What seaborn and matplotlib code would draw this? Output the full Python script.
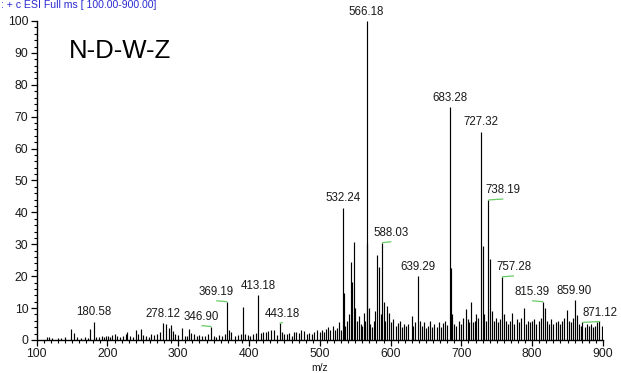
import matplotlib
matplotlib.use("Agg")
import matplotlib.pyplot as plt
from matplotlib.ticker import MultipleLocator
import seaborn as sns
import pandas as pd

# Labelled (annotated) ions: m/z and relative abundance (%)
label_mz = [180.58, 278.12, 346.90, 369.19, 413.18, 443.18, 532.24, 566.18,
            588.03, 639.29, 683.28, 727.32, 738.19, 757.28, 815.39, 859.90, 871.12]
label_int = [5.7, 5.2, 4.2, 12.0, 14.1, 5.2, 41.4, 100.0,
             30.5, 20.0, 73.0, 65.3, 43.9, 19.8, 12.0, 12.5, 5.5]
# Horizontal shift of each label from its peak (m/z units); 0 = centred
label_shift = [0, 0, -14, -15.5, 0, 4.5, 0, 0,
               13, 0, 0, 0, 21, 17, -15.5, 0, 25]

# Remaining (unlabelled) ions
other_mz = [115, 118, 122, 130, 135, 140, 148, 152, 157, 163, 168, 172, 176,
            184, 188, 192, 195, 198, 201, 204, 207, 210, 214, 218, 222, 226,
            228, 232, 236, 240, 243, 247, 250, 254, 258, 262, 266, 270, 274,
            282.6, 287, 290, 293, 296, 300, 305, 309, 312, 315, 318, 322, 326,
            330, 334, 338, 342, 350, 354, 358, 362, 366, 372, 375, 380, 384,
            388, 391, 395, 398, 402, 406, 410, 417, 420, 424, 427, 431, 435,
            439, 447, 450, 453, 456, 460, 464, 467, 471, 474, 478, 482, 485,
            489, 492, 496,
            500, 503, 506, 509, 512, 515, 518, 521, 524, 527, 530, 534, 536,
            539, 541, 544, 545.8, 548, 550, 552, 555, 558, 560, 562, 564,
            567.2, 569, 571, 574, 576, 578, 581, 584, 586, 590, 592, 595, 598,
            601, 604, 607, 610, 613, 616, 619, 622, 625, 629.6, 632, 635, 641,
            644, 647, 650, 653, 656, 659, 662, 665, 668, 671, 674, 677, 680,
            685, 687, 690, 693, 696, 699, 702, 706, 709, 711, 714, 717, 719,
            721, 724, 730, 732, 735, 741, 743, 746, 749, 752, 755, 760, 763,
            766, 769, 772, 775, 778, 781, 784, 788, 791, 794, 797, 800, 803,
            806, 809, 812, 818, 821, 824, 827, 830, 833, 836, 839, 842, 845,
            849.6, 852, 855, 858, 863, 866, 869, 874, 877, 880, 883, 886, 889,
            892, 895, 898]
other_int = [0.8, 1.0, 0.7, 0.5, 0.6, 0.8, 3.3, 2.2, 0.8, 0.6, 1.0, 0.7, 3.3,
             0.8, 1.0, 1.2, 1.0, 1.2, 1.2, 1.0, 1.5, 1.9, 1.2, 1.0, 1.4, 1.8,
             2.4, 1.2, 1.0, 3.2, 2.0, 3.5, 1.6, 1.2, 1.0, 1.8, 1.5, 2.0, 2.4,
             5.0, 3.7, 4.7, 2.8, 2.0, 1.6, 3.8, 1.4, 1.2, 3.5, 2.2, 1.8, 1.2,
             1.6, 1.2, 1.4, 1.8, 1.2, 0.8, 1.5, 1.2, 2.0, 3.0, 2.5, 1.2, 1.6,
             2.0, 10.4, 2.0, 1.6, 1.4, 2.0, 2.2, 2.3, 2.4, 2.4, 2.8, 3.0, 3.2,
             1.6, 2.4, 1.8, 2.0, 2.2, 1.4, 2.4, 2.6, 2.2, 3.0, 2.8, 1.8, 2.2,
             2.0, 2.4, 3.0,
             2.5, 3.2, 2.4, 3.6, 4.0, 3.0, 4.5, 3.2, 3.8, 5.6, 3.0, 14.7, 4.5,
             6.0, 8.0, 24.5, 18.3, 30.8, 10.0, 6.0, 7.5, 5.0, 4.5, 8.5, 6.0,
             30.0, 10.0, 5.0, 4.0, 6.0, 9.0, 26.6, 23.0, 8.0, 12.0, 6.0, 10.7, 8.5,
             5.5, 6.5, 4.5, 5.2, 6.0, 4.0, 5.0, 4.5, 5.0, 7.5, 4.5, 5.5, 6.0,
             4.5, 5.5, 3.8, 4.5, 6.0, 4.0, 5.0, 4.2, 5.5, 4.0, 5.2, 6.0, 4.8,
             22.5, 8.0, 5.0, 4.5, 6.0, 5.0, 7.0, 9.6, 6.5, 5.5, 12.0, 5.5, 6.0,
             8.0, 7.0, 29.5, 8.0, 6.0, 25.4, 9.0, 6.0, 7.0, 5.5, 6.5, 8.0, 6.0,
             5.0, 6.0, 8.5, 5.0, 6.5, 5.5, 7.0, 9.9, 5.0, 6.0, 5.5, 6.0, 6.5,
             5.0, 6.0, 7.0, 10.0, 6.0, 5.0, 6.5, 5.0, 5.5, 6.0, 5.0, 6.0, 7.0,
             9.4, 6.0, 5.5, 7.0, 7.8, 5.0, 4.5, 4.0, 5.0, 4.5, 5.0, 4.0, 4.5,
             5.5, 6.0, 4.5]

x_ticks = [100, 200, 300, 400, 500, 600, 700, 800, 900]
y_ticks = [0, 10, 20, 30, 40, 50, 60, 70, 80, 90, 100]

spectrum = pd.DataFrame({"mz": label_mz + other_mz,
                         "intensity": label_int + other_int})

sns.set_theme(style="ticks")
plt.rcParams["font.family"] = ["Liberation Sans", "DejaVu Sans"]

fig = plt.figure(figsize=(6.21, 3.73), dpi=100)
ax = fig.add_axes([0.0591, 0.0885, 0.9118, 0.8552])

# stick spectrum
ax.vlines(spectrum["mz"], 0, spectrum["intensity"], colors="black",
          linewidth=0.85)

ax.set_xlim(100, 900)
ax.set_ylim(0, 100)
ax.set_xticks(x_ticks)
ax.set_yticks(y_ticks)
ax.xaxis.set_minor_locator(MultipleLocator(10))
ax.yaxis.set_minor_locator(MultipleLocator(2))
ax.tick_params(axis="both", which="major", length=4.5, width=0.9,
               color="black", labelsize=8.7, pad=1.5, labelcolor="#1a1a1a")
ax.tick_params(axis="both", which="minor", length=2.5, width=0.8,
               color="black")
ax.grid(False)
sns.despine(ax=ax)
for side in ("left", "bottom"):
    ax.spines[side].set_color("black")
    ax.spines[side].set_linewidth(1.0)

ax.set_xlabel("m/z", fontsize=7.5, labelpad=2, color="#1a1a1a")

# peak labels, with green leaders where a label is shifted off its peak
for mz, h, dx in zip(label_mz, label_int, label_shift):
    if dx:
        ax.plot([mz, mz + dx], [h, h + 0.3], color="#66cc66", linewidth=0.9,
                solid_capstyle="butt", clip_on=False)
    ax.annotate(f"{mz:.2f}", (mz + dx, h), xytext=(0, 2.5),
                textcoords="offset points", ha="center", va="bottom",
                fontsize=8.3, color="#1a1a1a", annotation_clip=False)

ax.text(0.057, 0.885, "N-D-W-Z", transform=ax.transAxes, fontsize=18.5,
        color="black", ha="left", va="baseline")

fig.text(0.002, 0.999, ": + c ESI Full ms [ 100.00-900.00]", fontsize=7.6,
         color="#2a2ad0", ha="left", va="top")

fig.savefig("out.png", dpi=100)
